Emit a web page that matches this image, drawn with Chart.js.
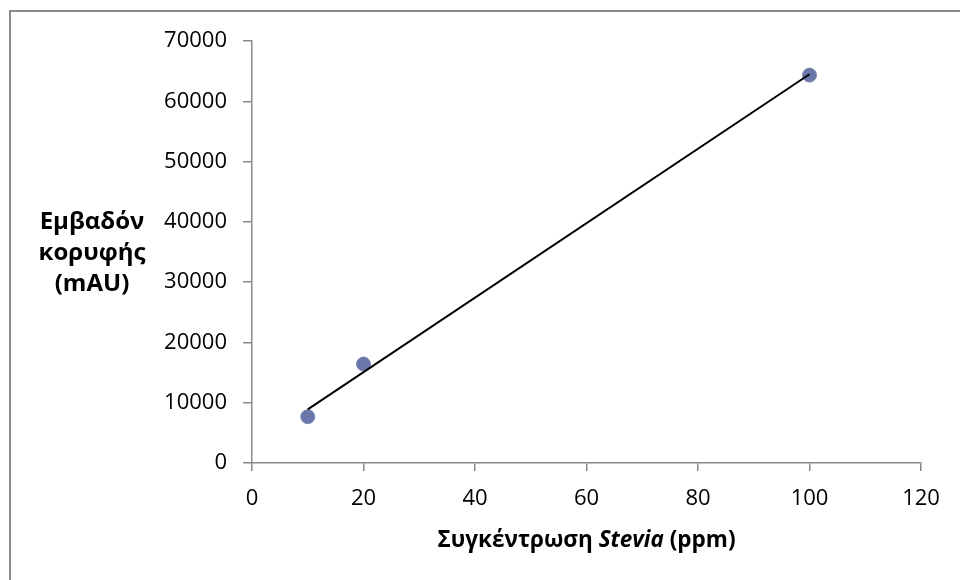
<!DOCTYPE html>
<html>
<head>
<meta charset="utf-8">
<script src="https://cdn.jsdelivr.net/npm/chart.js@4/dist/chart.umd.min.js"></script>
<style>
  html, body { margin: 0; padding: 0; background: #fff; }
  #wrap { width: 960px; height: 580px; position: relative; }
</style>
</head>
<body>
<div id="wrap"><canvas id="chart" width="960" height="580"></canvas></div>
<script>
const concentrations = [10, 20, 100];
const peakAreas = [7680, 16420, 64340];
const yTitleLines = ["Εμβαδόν", "κορυφής", "(mAU)"];
const xTitleParts = [
  { text: "Συγκέντρωση ", italic: false },
  { text: "Stevia", italic: true },
  { text: " (ppm)", italic: false },
];

const FONT = "'Open Sans', 'Noto Sans', sans-serif";
const axisGray = "#898989";

// least squares fit, like the spreadsheet trendline
function linearFit(xs, ys) {
  const n = xs.length;
  const mx = xs.reduce((a, b) => a + b, 0) / n;
  const my = ys.reduce((a, b) => a + b, 0) / n;
  let sxy = 0, sxx = 0;
  for (let i = 0; i < n; i++) {
    sxy += (xs[i] - mx) * (ys[i] - my);
    sxx += (xs[i] - mx) ** 2;
  }
  const slope = sxy / sxx;
  return { slope, intercept: my - slope * mx };
}

const fit = linearFit(concentrations, peakAreas);
const xMin = Math.min(...concentrations);
const xMax = Math.max(...concentrations);
const trendPoints = [xMin, xMax].map(x => ({ x, y: fit.slope * x + fit.intercept }));

const framePlugin = {
  id: "frame",
  beforeDraw(chart) {
    const ctx = chart.ctx;
    ctx.save();
    ctx.strokeStyle = "#8c8c8c";
    ctx.lineWidth = 2;
    ctx.beginPath();
    ctx.moveTo(10, 580);
    ctx.lineTo(10, 11);
    ctx.lineTo(960, 11);
    ctx.stroke();
    ctx.restore();
  },
  afterDraw(chart) {
    const ctx = chart.ctx;
    const area = chart.chartArea;
    ctx.save();
    ctx.fillStyle = "#000";
    ctx.textAlign = "center";
    ctx.textBaseline = "middle";
    ctx.font = `bold 24px ${FONT}`;
    yTitleLines.forEach((line, i) => {
      ctx.fillText(line, 92, 222 + i * 31);
    });

    // x title with italic part
    const fonts = xTitleParts.map(p => `${p.italic ? "italic " : ""}bold 22.5px ${FONT}`);
    let total = 0;
    const widths = xTitleParts.map((p, i) => {
      ctx.font = fonts[i];
      const w = ctx.measureText(p.text).width;
      total += w;
      return w;
    });
    let x = (area.left + area.right) / 2 - total / 2;
    ctx.textAlign = "left";
    xTitleParts.forEach((p, i) => {
      ctx.font = fonts[i];
      ctx.fillText(p.text, x, 541);
      x += widths[i];
    });
    ctx.restore();
  },
};

new Chart(document.getElementById("chart"), {
  type: "scatter",
  data: {
    datasets: [
      {
        label: "Stevia",
        data: concentrations.map((x, i) => ({ x, y: peakAreas[i] })),
        pointRadius: 7,
        pointHoverRadius: 7,
        backgroundColor: "#6a76aa",
        borderColor: "#7d88b6",
        borderWidth: 1,
        order: 2,
      },
      {
        label: "Trend",
        data: trendPoints,
        showLine: true,
        pointRadius: 0,
        borderColor: "#000",
        borderWidth: 2,
        order: 1,
      },
    ],
  },
  options: {
    responsive: false,
    animation: false,
    layout: { padding: { top: 41, right: 39, left: 0, bottom: 0 } },
    plugins: { legend: { display: false }, tooltip: { enabled: false } },
    scales: {
      x: {
        type: "linear",
        min: 0,
        max: 120,
        ticks: { stepSize: 20, color: "#000", padding: 15, font: { family: FONT, size: 22 }, callback: v => String(v) },
        grid: { drawOnChartArea: false, color: axisGray, lineWidth: 1.5, tickLength: 8 },
        border: { color: axisGray, width: 1.5 },
        afterFit: s => { s.height = 117; },
      },
      y: {
        min: 0,
        max: 70000,
        ticks: { stepSize: 10000, color: "#000", padding: 16, font: { family: FONT, size: 22 }, callback: v => String(v) },
        grid: { drawOnChartArea: false, color: axisGray, lineWidth: 1.5, tickLength: 9 },
        border: { color: axisGray, width: 1.5 },
        afterFit: s => { s.width = 252; },
      },
    },
  },
  plugins: [framePlugin],
});
</script>
</body>
</html>
